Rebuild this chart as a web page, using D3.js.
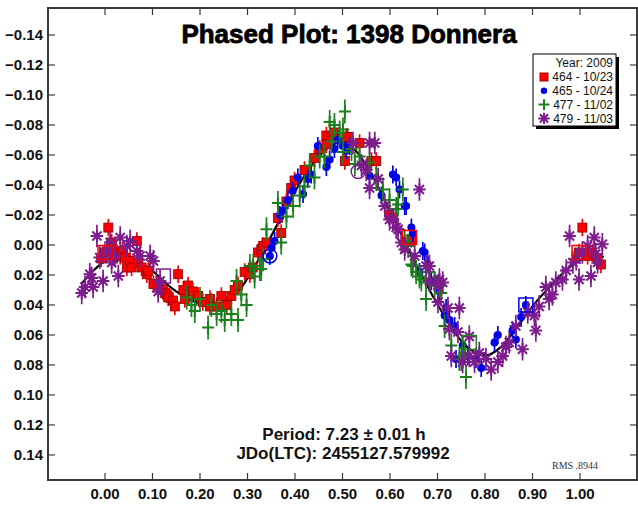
<!DOCTYPE html>
<html><head><meta charset="utf-8">
<script src="https://cdn.jsdelivr.net/npm/d3@7"></script>
<style>body{margin:0;background:#fff}svg{display:block}</style>
</head><body><svg id="c" width="638" height="508"></svg>
<script>
// ---------- data ----------
const xTicks = [0.00,0.10,0.20,0.30,0.40,0.50,0.60,0.70,0.80,0.90,1.00];
const yTicks = [-0.14,-0.12,-0.10,-0.08,-0.06,-0.04,-0.02,0.00,0.02,0.04,0.06,0.08,0.10,0.12,0.14];
const titleText = "Phased Plot: 1398 Donnera";
const legendTitle = "Year: 2009";
const seriesNames = ["464 - 10/23","465 - 10/24","477 - 11/02","479 - 11/03"];
const seriesErr = [0.0058, 0.006, 0.008, 0.0075];
const periodText = "Period: 7.23 \u00b1 0.01 h";
const jdText = "JDo(LTC): 2455127.579992";
const rmsText = "RMS .8944";

const red464 = [
[-0.008,0.009],[0.007,-0.0116],[0.0,0.005],[0.014,-0.0016],[0.019,0.008],[0.025,0.005],[0.032,0.0073],[0.037,0.004],[0.042,0.0084],[0.046,0.015],[0.053,0.0107],[0.056,0.015],[0.067,-0.0027],[0.070,0.0117],[0.077,0.015],[0.088,0.0195],[0.091,0.0173],[0.102,0.026],[0.112,0.027],[0.123,0.030],[0.126,0.032],[0.130,0.033],[0.133,0.035],[0.143,0.037],[0.147,0.041],[0.154,0.0195],[0.165,0.030],[0.168,0.036],[0.175,0.027],[0.185,0.031],[0.196,0.034],[0.206,0.038],[0.221,0.036],[0.221,0.041],[0.235,0.041],[0.245,0.034],[0.256,0.040],[0.266,0.034],[0.273,0.030],[0.280,0.027],[0.294,0.018],[0.305,0.0195],[0.311,0.015],[0.322,0.005],[0.329,0.003],[0.333,0.0007],[0.340,-0.0016],[0.364,-0.018],[0.371,-0.008],[0.382,-0.029],[0.392,-0.038],[0.399,-0.043],[0.420,-0.050],[0.441,-0.058],[0.452,-0.064],[0.466,-0.073],[0.466,-0.067],[0.477,-0.072],[0.483,-0.075],[0.505,-0.056],[0.508,-0.072],[0.511,-0.072],[0.536,-0.068],[0.561,-0.056],[0.571,-0.056],[0.599,-0.020],[0.606,-0.018],[0.645,-0.004],[0.998,0.005],[1.005,-0.0116],[1.016,0.0073],[1.026,0.005],[1.037,0.0095],[1.044,0.013]
];
const blue465 = [
[0.347,0.0073],[0.350,0.002],[0.357,-0.0027],[0.368,-0.020],[0.375,-0.023],[0.385,-0.030],[0.395,-0.036],[0.406,-0.045],[0.417,-0.034],[0.427,-0.044],[0.434,-0.047],[0.448,-0.066],[0.466,-0.052],[0.473,-0.057],[0.483,-0.064],[0.490,-0.070],[0.501,-0.066],[0.508,-0.063],[0.515,-0.066],[0.557,-0.046],[0.582,-0.033],[0.606,-0.047],[0.613,-0.045],[0.620,-0.037],[0.631,-0.026],[0.634,-0.026],[0.645,-0.0116],[0.648,-0.008],[0.662,0.018],[0.669,0.004],[0.673,0.005],[0.680,0.013],[0.687,0.024],[0.694,0.024],[0.704,0.031],[0.715,0.047],[0.718,0.042],[0.725,0.050],[0.736,0.054],[0.739,0.076],[0.753,0.067],[0.764,0.074],[0.781,0.076],[0.792,0.082],[0.820,0.065],[0.827,0.060],[0.858,0.057],[0.865,0.063],[0.876,0.048],[0.886,0.040]
];
const green477 = [
[0.172,0.035],[0.182,0.040],[0.189,0.044],[0.200,0.036],[0.217,0.055],[0.224,0.040],[0.235,0.046],[0.245,0.044],[0.252,0.050],[0.266,0.046],[0.277,0.024],[0.280,0.050],[0.287,0.033],[0.298,0.040],[0.305,0.014],[0.312,0.014],[0.315,0.021],[0.326,0.016],[0.329,0.016],[0.333,0.0095],[0.340,-0.0105],[0.364,-0.028],[0.371,-0.0016],[0.382,-0.019],[0.396,-0.026],[0.410,-0.033],[0.420,-0.039],[0.431,-0.053],[0.441,-0.045],[0.452,-0.059],[0.462,-0.059],[0.473,-0.082],[0.477,-0.069],[0.483,-0.080],[0.494,-0.075],[0.501,-0.062],[0.501,-0.077],[0.505,-0.089],[0.519,-0.064],[0.526,-0.054],[0.536,-0.059],[0.557,-0.055],[0.571,-0.044],[0.585,-0.037],[0.599,-0.030],[0.613,-0.024],[0.617,-0.027],[0.627,-0.037],[0.631,-0.0027],[0.638,0.0007],[0.645,0.013],[0.648,0.014],[0.655,0.018],[0.662,0.021],[0.666,0.023],[0.676,0.025],[0.676,0.036],[0.683,0.018],[0.694,0.027],[0.704,0.027],[0.708,0.032],[0.715,0.054],[0.729,0.067],[0.746,0.076],[0.750,0.076],[0.757,0.072],[0.760,0.088]
];
const purple479 = [
[-0.049,0.032],[-0.042,0.028],[-0.032,0.0195],[-0.028,0.022],[-0.025,0.028],[-0.017,-0.006],[-0.011,0.0084],[-0.004,0.024],[0.004,0.004],[0.011,-0.0016],[0.014,0.0117],[0.021,0.0073],[0.028,0.0207],[0.032,-0.005],[0.046,0.0007],[0.053,-0.0027],[0.067,0.004],[0.074,0.0073],[0.095,0.0073],[0.102,0.0107],[0.112,0.031],[0.116,0.024],
[0.522,-0.068],[0.540,-0.053],[0.550,-0.050],[0.557,-0.068],[0.557,-0.038],[0.568,-0.068],[0.575,-0.044],[0.589,-0.026],[0.599,-0.017],[0.606,-0.017],[0.613,-0.0116],[0.617,-0.0105],[0.624,-0.0016],[0.631,0.003],[0.652,0.0073],[0.662,-0.037],[0.676,0.014],[0.683,0.014],[0.683,0.024],[0.701,0.027],[0.701,0.038],[0.704,0.023],[0.711,0.025],[0.722,0.042],[0.725,0.056],[0.729,0.074],[0.743,0.058],[0.746,0.042],[0.753,0.078],[0.767,0.061],[0.767,0.074],[0.778,0.078],[0.788,0.072],[0.802,0.076],[0.813,0.083],[0.827,0.078],[0.837,0.074],[0.844,0.068],[0.851,0.065],[0.865,0.054],[0.879,0.0695],[0.890,0.045],[0.904,0.047],[0.907,0.057],[0.914,0.041],[0.928,0.028],[0.935,0.036],[0.942,0.033],[0.949,0.025],[0.963,0.023],[0.971,0.017],[0.978,-0.006],[0.985,0.0117],[0.992,0.0095],[0.998,0.023],[1.005,0.005],[1.016,0.0007],[1.023,0.0207],[1.030,-0.005],[1.033,0.006],[1.037,0.0117],[1.047,-0.0005]
];
// session start markers: [series index, phase, mag]
const openSquares = [[0,0.0,0.005],[0,0.998,0.005],[0,0.641,-0.005],[1,0.886,0.040],[2,0.767,0.065],[3,0.123,0.0207]];
const openCircles = [[1,0.347,0.0073],[3,0.533,-0.049]];
// fitted curve
const fitPhase = [-0.05,-0.03,-0.01,0.01,0.03,0.05,0.07,0.09,0.11,0.13,0.15,0.17,0.19,0.21,0.23,0.25,0.27,0.29,0.31,0.33,0.35,0.37,0.39,0.41,0.43,0.45,0.47,0.49,0.51,0.53,0.55,0.57,0.59,0.61,0.63,0.65,0.67,0.69,0.71,0.73,0.75,0.77,0.79,0.81,0.83,0.85,0.87,0.89,0.91,0.93,0.95,0.97,0.99,1.01,1.03,1.05];
const fitMag = [0.026,0.019,0.013,0.009,0.0075,0.008,0.011,0.015,0.020,0.026,0.031,0.035,0.038,0.040,0.040,0.038,0.034,0.027,0.017,0.006,-0.006,-0.018,-0.030,-0.041,-0.051,-0.059,-0.065,-0.068,-0.067,-0.062,-0.053,-0.042,-0.029,-0.016,-0.003,0.010,0.022,0.034,0.045,0.055,0.064,0.070,0.073,0.073,0.069,0.062,0.054,0.045,0.037,0.030,0.023,0.017,0.012,0.009,0.0075,0.008];

// ---------- drawing ----------
const colors = ["#ff0000","#0000e6","#1b7f1b","#7d1c8c"];
const allSeries = [red464, blue465, green477, purple479];
const svg = d3.select("#c");
const L = 48, R = 637, T = 8, B = 480;
const x = d3.scaleLinear().domain([-0.12, 1.12]).range([L, R]);
const y = d3.scaleLinear().domain([-0.158, 0.1567]).range([T, B]);
const fmt = d3.format(".2f");
const axisColor = "#3a3a3a";
const lf = "Liberation Sans, Arial, sans-serif";

// ticks
const tk = 7;
const g = svg.append("g");
g.selectAll(".xb").data(xTicks).join("line")
  .attr("x1", d => x(d)).attr("x2", d => x(d)).attr("y1", B).attr("y2", B - tk)
  .attr("stroke", axisColor).attr("stroke-width", 1.2);
g.selectAll(".xt").data(xTicks).join("line")
  .attr("x1", d => x(d)).attr("x2", d => x(d)).attr("y1", T).attr("y2", T + tk)
  .attr("stroke", axisColor).attr("stroke-width", 1.2);
g.selectAll(".yl").data(yTicks).join("line")
  .attr("x1", L).attr("x2", L + tk).attr("y1", d => y(d)).attr("y2", d => y(d))
  .attr("stroke", axisColor).attr("stroke-width", 1.2);
g.selectAll(".yr").data(yTicks).join("line")
  .attr("x1", R).attr("x2", R - tk).attr("y1", d => y(d)).attr("y2", d => y(d))
  .attr("stroke", axisColor).attr("stroke-width", 1.2);

// tick labels
g.selectAll(".xlab").data(xTicks).join("text")
  .attr("x", d => x(d)).attr("y", 499).attr("text-anchor", "middle")
  .attr("font-family", lf).attr("font-weight", "bold")
  .attr("font-size", 15).attr("fill", "#111").text(d => fmt(d));
g.selectAll(".ylab").data(yTicks).join("text")
  .attr("x", 43).attr("y", d => y(d)).attr("dy", "0.36em").attr("text-anchor", "end")
  .attr("font-family", lf).attr("font-weight", "bold")
  .attr("font-size", 15).attr("fill", "#111").text(d => fmt(d));

// frame
svg.append("rect").attr("x", L).attr("y", T).attr("width", R - L).attr("height", B - T)
  .attr("fill", "none").attr("stroke", axisColor).attr("stroke-width", 2);

// title
svg.append("text").attr("x", 349).attr("y", 43).attr("text-anchor", "middle")
  .attr("font-family", lf).attr("font-weight", "bold")
  .attr("font-size", 26).attr("fill", "#000").attr("stroke", "#000").attr("stroke-width", 0.8)
  .text(titleText);

// fit curve (under the points)
const line = d3.line().x(d => x(d[0])).y(d => y(d[1])).curve(d3.curveCatmullRom);
svg.append("path").datum(fitPhase.map((p, k) => [p, fitMag[k]]))
  .attr("d", line).attr("fill", "none").attr("stroke", "#000").attr("stroke-width", 2.2);

// markers
function drawMarker(sel, i, cx, cy, scale) {
  const c = colors[i];
  if (i === 0) {
    sel.append("rect").attr("x", cx - 4.5 * scale).attr("y", cy - 4.5 * scale)
      .attr("width", 9 * scale).attr("height", 9 * scale)
      .attr("fill", c).attr("stroke", "#8a0000").attr("stroke-width", 0.8);
  } else if (i === 1) {
    sel.append("circle").attr("cx", cx).attr("cy", cy).attr("r", 4 * scale).attr("fill", c);
  } else if (i === 2) {
    const a = 6 * scale;
    sel.append("path").attr("d", `M${cx - a},${cy}H${cx + a}M${cx},${cy - a}V${cy + a}`)
      .attr("stroke", c).attr("stroke-width", 2);
  } else {
    const a = 6.3 * scale, d = a * 0.72;
    sel.append("path").attr("d",
      `M${cx - a},${cy}H${cx + a}M${cx},${cy - a}V${cy + a}M${cx - d},${cy - d}L${cx + d},${cy + d}M${cx - d},${cy + d}L${cx + d},${cy - d}`)
      .attr("stroke", c).attr("stroke-width", 2);
  }
}

const pts = svg.append("g");
allSeries.forEach((data, i) => {
  const gs = pts.append("g");
  data.forEach(([p, m]) => {
    gs.append("line").attr("x1", x(p)).attr("x2", x(p))
      .attr("y1", y(m - seriesErr[i])).attr("y2", y(m + seriesErr[i]))
      .attr("stroke", colors[i]).attr("stroke-width", 1.7);
    drawMarker(gs, i, x(p), y(m), 1);
  });
});

// open session markers
pts.selectAll(".osq").data(openSquares).join("rect")
  .attr("x", d => x(d[1]) - 7).attr("y", d => y(d[2]) - 7).attr("width", 14).attr("height", 14)
  .attr("fill", "none").attr("stroke", d => colors[d[0]]).attr("stroke-width", 1.5);
pts.selectAll(".oci").data(openCircles).join("circle")
  .attr("cx", d => x(d[1])).attr("cy", d => y(d[2])).attr("r", 7)
  .attr("fill", "none").attr("stroke", d => colors[d[0]]).attr("stroke-width", 1.5);

// legend
const lx = 533, ly = 54, lw = 83, lh = 72;
svg.append("rect").attr("x", lx + 3).attr("y", ly + 3).attr("width", lw).attr("height", lh).attr("fill", "#000");
svg.append("rect").attr("x", lx).attr("y", ly).attr("width", lw).attr("height", lh)
  .attr("fill", "#fff").attr("stroke", "#000").attr("stroke-width", 1);
svg.append("text").attr("x", lx + lw - 3).attr("y", ly + 13).attr("text-anchor", "end")
  .attr("font-family", lf).attr("font-size", 12).attr("fill", "#111").text(legendTitle);
seriesNames.forEach((n, i) => {
  const cy = ly + 23 + i * 13.8;
  drawMarker(svg, i, lx + 11, cy, i === 1 ? 0.8 : 0.9);
  svg.append("text").attr("x", lx + lw - 3).attr("y", cy + 4.3).attr("text-anchor", "end")
    .attr("font-family", lf).attr("font-size", 12).attr("fill", "#111").text(n);
});

// annotations
svg.append("text").attr("x", 344).attr("y", 440).attr("text-anchor", "middle")
  .attr("font-family", lf).attr("font-weight", "bold").attr("font-size", 17).attr("fill", "#111").text(periodText);
svg.append("text").attr("x", 343).attr("y", 459).attr("text-anchor", "middle")
  .attr("font-family", lf).attr("font-weight", "bold").attr("font-size", 17).attr("fill", "#111").text(jdText);
svg.append("text").attr("x", 552).attr("y", 469)
  .attr("font-family", "Liberation Serif, Times New Roman, serif").attr("font-size", 10).attr("fill", "#333").text(rmsText);
</script>
</body></html>
